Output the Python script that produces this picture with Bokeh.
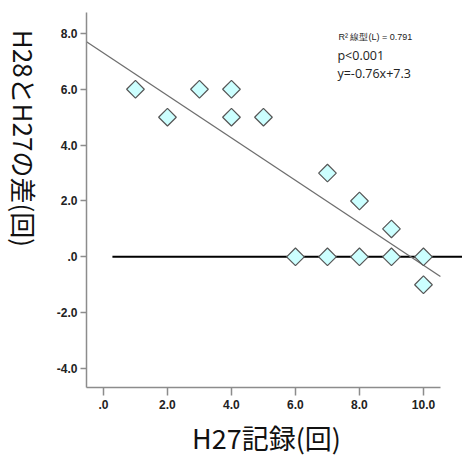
import math
from bokeh.plotting import figure
from bokeh.models import Label, FixedTicker, Range1d
from bokeh.layouts import row, column
from bokeh.core.properties import value
from bokeh.embed import file_html
from bokeh.resources import INLINE

# Data
h27 = [1, 2, 3, 4, 4, 5, 6, 7, 7, 8, 8, 9, 9, 10, 10]
diff = [6, 5, 6, 6, 5, 5, 0, 3, 0, 2, 0, 1, 0, 0, -1]
slope = -0.76
intercept = 7.3
x_ticks = [0, 2, 4, 6, 8, 10]
x_tick_labels = [".0", "2.0", "4.0", "6.0", "8.0", "10.0"]
y_ticks = [-4, -2, 0, 2, 4, 6, 8]
y_tick_labels = ["-4.0", "-2.0", ".0", "2.0", "4.0", "6.0", "8.0"]
ref_y = 0
ref_x_start = 0.28
stats_lines = ["R\u00b2 線型(L) = 0.791", "p<0.001", "y=-0.76x+7.3"]
x_title = "H27記録(回)"
y_title = "H28とH27の差(回)"

x_lo, x_hi, x_axis_end = -0.53, 11.22, 10.53
y_lo, y_hi = -4.68, 8.75

YLAB_W = 46
MAIN_H = 414
TOTAL_W = 462
XLAB_H = 42
TITLE_FONT = "Noto Sans CJK JP"

# ---- main plot ----
p = figure(width=TOTAL_W - YLAB_W, height=MAIN_H, output_backend="svg", toolbar_location=None,
           x_range=Range1d(x_lo, x_hi), y_range=Range1d(y_lo, y_hi),
           min_border_left=86 - YLAB_W, min_border_right=0, min_border_top=12,
           min_border_bottom=MAIN_H - 387)
p.outline_line_color = None
p.xgrid.visible = False
p.ygrid.visible = False

for ax in (p.xaxis[0], p.yaxis[0]):
    ax.axis_line_color = "#8c8c8c"
    ax.axis_line_width = 1.5
    ax.major_tick_line_color = "#8c8c8c"
    ax.major_tick_line_width = 1.5
    ax.minor_tick_line_color = None
    ax.major_tick_in = 0
    ax.major_label_text_font = "Liberation Sans"
    ax.major_label_text_font_style = "bold"
    ax.major_label_text_font_size = "12px"
    ax.major_label_text_color = "#222222"

p.xaxis[0].ticker = FixedTicker(ticks=x_ticks)
p.xaxis[0].major_label_overrides = {t: l for t, l in zip(x_ticks, x_tick_labels)}
p.xaxis[0].bounds = (x_lo, x_axis_end)
p.xaxis[0].major_tick_out = 8
p.xaxis[0].major_label_standoff = 4

p.yaxis[0].ticker = FixedTicker(ticks=y_ticks)
p.yaxis[0].major_label_overrides = {t: l for t, l in zip(y_ticks, y_tick_labels)}
p.yaxis[0].major_tick_out = 6
p.yaxis[0].major_label_standoff = 3

# reference line at 0
p.line([ref_x_start, x_hi], [ref_y, ref_y], line_color="black", line_width=2)

# regression line
xs = [x_lo, x_axis_end]
p.line(xs, [slope * v + intercept for v in xs], line_color="#6e6e6e", line_width=1.3)

# points
p.scatter(h27, diff, marker="square", size=12.5, angle=math.pi / 4,
          fill_color="#ccffff", line_color="#555555", line_width=1.2)

# stats text
stats_x = [(338 - 103) / 32, (337 - 103) / 32, (337 - 103) / 32]
stats_y = [8.0 - (37 - 33) / 28, 8.0 - (55 - 33) / 28, 8.0 - (73 - 33) / 28]
stats_font = ["Liberation Sans", "Open Sans", "Open Sans"]
stats_size = ["9px", "12.5px", "12.5px"]
for t, xx, yy, f, s in zip(stats_lines, stats_x, stats_y, stats_font, stats_size):
    p.add_layout(Label(x=xx, y=yy, text=t, text_font=f, text_font_size=s,
                       text_color="#222222", text_baseline="middle", text_align="left"))

# ---- y-axis title panel ----
yl = figure(width=YLAB_W, height=MAIN_H, output_backend="svg", toolbar_location=None,
            x_range=Range1d(0, YLAB_W), y_range=Range1d(0, MAIN_H),
            min_border=0, x_axis_type=None, y_axis_type=None)
yl.outline_line_color = None
yl.grid.visible = False
yl.text(x=[23.5], y=[MAIN_H - 139], text=[y_title], angle=-math.pi / 2,
        text_font=value(TITLE_FONT), text_font_size="26px", text_color="#111111",
        text_align="center", text_baseline="middle")

# ---- x-axis title panel ----
xl = figure(width=TOTAL_W, height=XLAB_H, output_backend="svg", toolbar_location=None,
            x_range=Range1d(0, TOTAL_W), y_range=Range1d(0, XLAB_H),
            min_border=0, x_axis_type=None, y_axis_type=None)
xl.outline_line_color = None
xl.grid.visible = False
xl.text(x=[266], y=[XLAB_H - (437 - MAIN_H)], text=[x_title],
        text_font=value(TITLE_FONT), text_font_size="27px", text_color="#111111",
        text_align="center", text_baseline="middle")

layout = column(row(yl, p, spacing=0), xl, spacing=0)
open("out.html", "w").write(file_html(layout, INLINE))
